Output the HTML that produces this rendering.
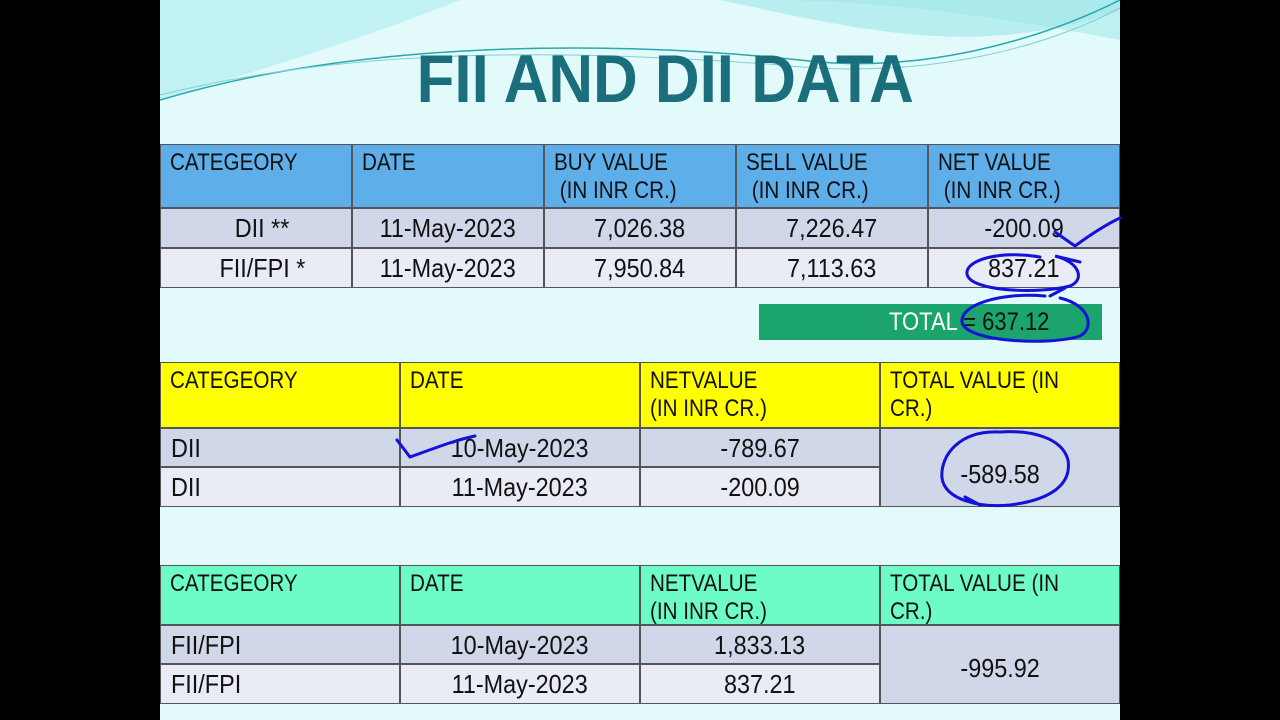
<!DOCTYPE html>
<html><head><meta charset="utf-8">
<style>
*{margin:0;padding:0;box-sizing:border-box}
body{width:1280px;height:720px;background:#000;position:relative;overflow:hidden;font-family:"Liberation Sans",sans-serif;color:#111}
#slide{position:absolute;left:160px;top:0;width:960px;height:720px;background:#e2fafa;overflow:hidden}
.c{position:absolute;border:1.5px solid #555;font-size:24px;line-height:28px;white-space:nowrap}
.c span{display:inline-block;transform:scaleX(.86)}
.b{font-size:26px;line-height:28px}
.b span{transform:scaleX(.9)}
.l span{transform-origin:left top}
.m{text-align:center}
.m span{transform-origin:center top}
.h{padding:4px 0 0 9px}
.h span{transform-origin:left top}
</style></head><body>
<div id="slide">
<svg width="960" height="720" style="position:absolute;left:0;top:0">
<path d="M0 0 H960 V40 C800 10 700 0 600 0 Z" fill="#bff0f0"/>
<path d="M0 0 H560 C700 30 820 60 960 10 V0 Z" fill="#9fe6ea" opacity=".6"/>
<path d="M0 0 H300 C200 40 100 70 0 100 Z" fill="#b4ecee" opacity=".7"/>
<path d="M0 100 C200 40 450 40 640 60 C760 75 880 40 960 0" stroke="#2aa8b0" stroke-width="1.5" fill="none"/>
<path d="M0 95 C200 45 420 50 620 65 C760 80 880 50 960 8" stroke="#7fd0d6" stroke-width="1" fill="none"/>
</svg>
<div style="position:absolute;left:0;width:960px;top:37px;text-align:center;font-size:68px;line-height:84px;color:#1b6f7c;font-weight:bold;padding-left:50px"><span style="display:inline-block;transform:scaleX(.91)">FII AND DII DATA</span></div>
</div>

<!-- table 1 -->
<div class="c h" style="left:160px;top:144px;width:192px;height:64px;background:#5eaeea"><span>CATEGEORY</span></div>
<div class="c h" style="left:352px;top:144px;width:192px;height:64px;background:#5eaeea"><span>DATE</span></div>
<div class="c h" style="left:544px;top:144px;width:192px;height:64px;background:#5eaeea"><span>BUY VALUE<br>&nbsp;(IN INR CR.)</span></div>
<div class="c h" style="left:736px;top:144px;width:192px;height:64px;background:#5eaeea"><span>SELL VALUE<br>&nbsp;(IN INR CR.)</span></div>
<div class="c h" style="left:928px;top:144px;width:192px;height:64px;background:#5eaeea"><span>NET VALUE<br>&nbsp;(IN INR CR.)</span></div>

<div class="c m b" style="left:160px;top:208px;width:192px;height:40px;background:#d0d7e8;padding-top:5px"><span>&nbsp;&nbsp;DII **</span></div>
<div class="c m b" style="left:352px;top:208px;width:192px;height:40px;background:#d0d7e8;padding-top:5px"><span>11-May-2023</span></div>
<div class="c m b" style="left:544px;top:208px;width:192px;height:40px;background:#d0d7e8;padding-top:5px"><span>7,026.38</span></div>
<div class="c m b" style="left:736px;top:208px;width:192px;height:40px;background:#d0d7e8;padding-top:5px"><span>7,226.47</span></div>
<div class="c m b" style="left:928px;top:208px;width:192px;height:40px;background:#d0d7e8;padding-top:5px"><span>-200.09</span></div>

<div class="c m b" style="left:160px;top:248px;width:192px;height:40px;background:#e9ecf4;padding-top:5px"><span>&nbsp;&nbsp;FII/FPI *</span></div>
<div class="c m b" style="left:352px;top:248px;width:192px;height:40px;background:#e9ecf4;padding-top:5px"><span>11-May-2023</span></div>
<div class="c m b" style="left:544px;top:248px;width:192px;height:40px;background:#e9ecf4;padding-top:5px"><span>7,950.84</span></div>
<div class="c m b" style="left:736px;top:248px;width:192px;height:40px;background:#e9ecf4;padding-top:5px"><span>7,113.63</span></div>
<div class="c m b" style="left:928px;top:248px;width:192px;height:40px;background:#e9ecf4;padding-top:5px"><span>837.21</span></div>

<div style="position:absolute;left:759px;top:304px;width:343px;height:36px;background:#1ba56c;font-size:25px;line-height:36px;color:#fff;padding-left:130px;white-space:nowrap"><span style="display:inline-block;transform:scaleX(.88);transform-origin:left">TOTAL <span style="color:#111">= 637.12</span></span></div>

<!-- table 2 -->
<div class="c h" style="left:160px;top:362px;width:240px;height:66px;background:#ffff00"><span>CATEGEORY</span></div>
<div class="c h" style="left:400px;top:362px;width:240px;height:66px;background:#ffff00"><span>DATE</span></div>
<div class="c h" style="left:640px;top:362px;width:240px;height:66px;background:#ffff00"><span>NETVALUE<br>(IN INR CR.)</span></div>
<div class="c h" style="left:880px;top:362px;width:240px;height:66px;background:#ffff00"><span>TOTAL VALUE (IN<br>CR.)</span></div>
<div class="c l b" style="left:160px;top:428px;width:240px;height:39px;background:#d0d7e8;padding:5px 0 0 10px"><span>DII</span></div>
<div class="c m b" style="left:400px;top:428px;width:240px;height:39px;background:#d0d7e8;padding-top:5px"><span>10-May-2023</span></div>
<div class="c m b" style="left:640px;top:428px;width:240px;height:39px;background:#d0d7e8;padding-top:5px"><span>-789.67</span></div>
<div class="c l b" style="left:160px;top:467px;width:240px;height:40px;background:#e9ecf4;padding:5px 0 0 10px"><span>DII</span></div>
<div class="c m b" style="left:400px;top:467px;width:240px;height:40px;background:#e9ecf4;padding-top:5px"><span>11-May-2023</span></div>
<div class="c m b" style="left:640px;top:467px;width:240px;height:40px;background:#e9ecf4;padding-top:5px"><span>-200.09</span></div>
<div class="c m b" style="left:880px;top:428px;width:240px;height:79px;background:#d0d7e8;padding-top:31px"><span>-589.58</span></div>

<!-- table 3 -->
<div class="c h" style="left:160px;top:565px;width:240px;height:60px;background:#6dfcc6"><span>CATEGEORY</span></div>
<div class="c h" style="left:400px;top:565px;width:240px;height:60px;background:#6dfcc6"><span>DATE</span></div>
<div class="c h" style="left:640px;top:565px;width:240px;height:60px;background:#6dfcc6"><span>NETVALUE<br>(IN INR CR.)</span></div>
<div class="c h" style="left:880px;top:565px;width:240px;height:60px;background:#6dfcc6"><span>TOTAL VALUE (IN<br>CR.)</span></div>
<div class="c l b" style="left:160px;top:625px;width:240px;height:39px;background:#d0d7e8;padding:5px 0 0 10px"><span>FII/FPI</span></div>
<div class="c m b" style="left:400px;top:625px;width:240px;height:39px;background:#d0d7e8;padding-top:5px"><span>10-May-2023</span></div>
<div class="c m b" style="left:640px;top:625px;width:240px;height:39px;background:#d0d7e8;padding-top:5px"><span>1,833.13</span></div>
<div class="c l b" style="left:160px;top:664px;width:240px;height:40px;background:#e9ecf4;padding:5px 0 0 10px"><span>FII/FPI</span></div>
<div class="c m b" style="left:400px;top:664px;width:240px;height:40px;background:#e9ecf4;padding-top:5px"><span>11-May-2023</span></div>
<div class="c m b" style="left:640px;top:664px;width:240px;height:40px;background:#e9ecf4;padding-top:5px"><span>837.21</span></div>
<div class="c m b" style="left:880px;top:625px;width:240px;height:79px;background:#d0d7e8;padding-top:28px"><span>-995.92</span></div>

<!-- annotations -->
<svg width="1280" height="720" style="position:absolute;left:0;top:0" fill="none" stroke="#1212d8" stroke-width="3" stroke-linecap="round">
<path d="M1055 232 L1075 246 C1090 235 1105 225 1120 218"/>
<path d="M1040 257 C1000 250 965 260 967 274 C970 292 1040 294 1070 286 C1085 280 1080 262 1055 256 L1080 262"/>
<path d="M1045 296 C1000 292 960 305 962 322 C965 342 1050 346 1080 336 C1095 328 1090 305 1060 298 M1050 296 L1065 288"/>
<path d="M397 440 L410 457 C430 450 455 440 475 436"/>
<path d="M1000 432 C960 430 940 455 942 478 C945 500 980 508 1010 505 C1050 500 1072 485 1068 460 C1062 437 1030 430 1000 432 M965 497 L980 505"/>
</svg>
</body></html>
